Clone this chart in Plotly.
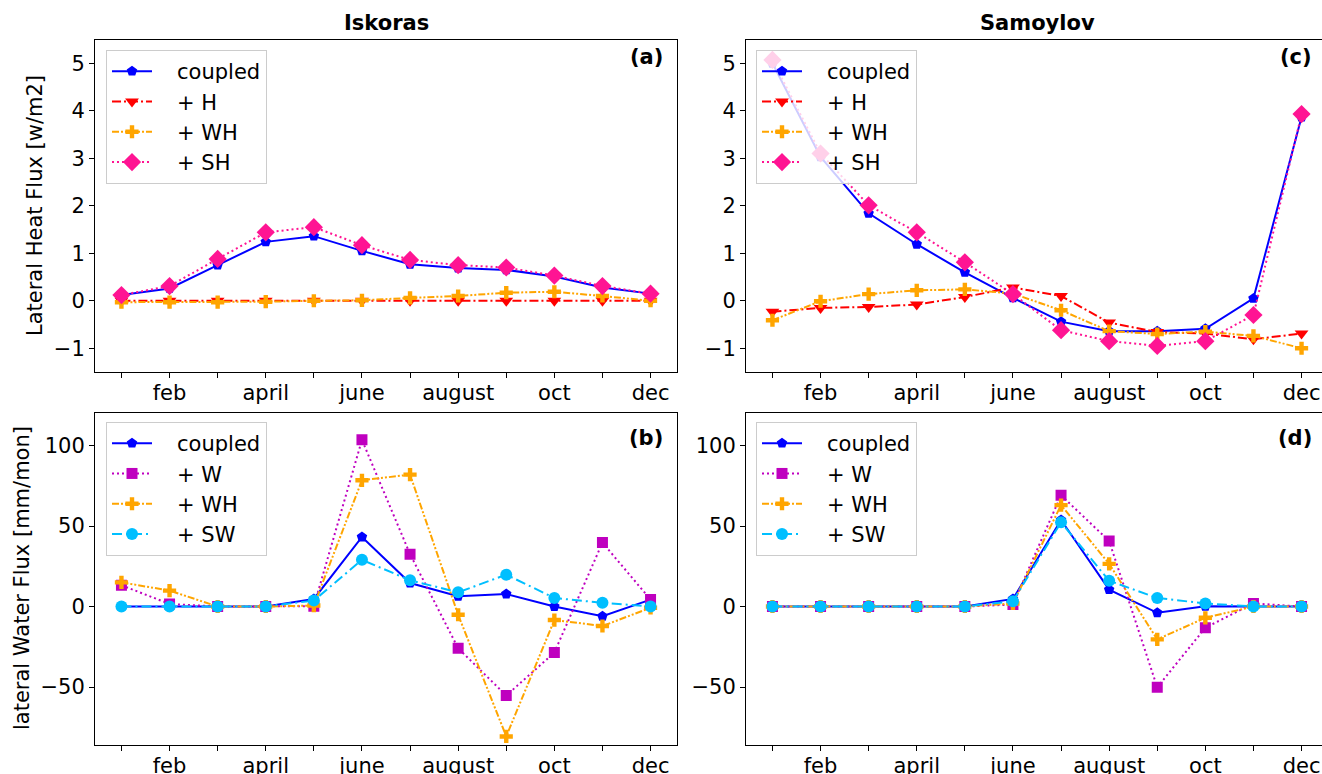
import plotly.graph_objects as go

W, H = 1322, 774

# ---------------- data ----------------
months = [1, 2, 3, 4, 5, 6, 7, 8, 9, 10, 11, 12]
month_labels = ["", "feb", "", "april", "", "june", "", "august", "", "oct", "", "dec"]

# (a) Iskoras lateral heat flux [w/m2]
isk_heat_coupled = [0.12, 0.26, 0.75, 1.24, 1.36, 1.05, 0.77, 0.69, 0.65, 0.51, 0.28, 0.15]
isk_heat_H = [0.0, 0.0, 0.0, 0.0, 0.0, 0.0, 0.0, 0.0, 0.0, 0.0, 0.0, 0.0]
isk_heat_WH = [-0.03, -0.03, -0.03, -0.02, 0.0, 0.01, 0.06, 0.10, 0.17, 0.19, 0.10, 0.0]
isk_heat_SH = [0.12, 0.31, 0.88, 1.44, 1.55, 1.17, 0.86, 0.75, 0.70, 0.53, 0.31, 0.15]

# (c) Samoylov lateral heat flux [w/m2]
sam_heat_coupled = [5.0, 3.03, 1.84, 1.19, 0.60, 0.06, -0.44, -0.64, -0.64, -0.59, 0.05, 3.87]
sam_heat_H = [-0.23, -0.15, -0.13, -0.08, 0.08, 0.28, 0.10, -0.46, -0.66, -0.69, -0.81, -0.69]
sam_heat_WH = [-0.41, -0.01, 0.14, 0.22, 0.24, 0.15, -0.20, -0.64, -0.70, -0.65, -0.74, -1.0]
sam_heat_SH = [5.07, 3.10, 2.01, 1.44, 0.81, 0.14, -0.62, -0.85, -0.95, -0.85, -0.30, 3.93]

# (b) Iskoras lateral water flux [mm/mon]
isk_water_coupled = [0.0, 0.0, 0.0, 0.0, 4.7, 43.2, 14.6, 6.4, 7.8, 0.0, -6.0, 4.3]
isk_water_W = [13.2, 1.6, 0.0, 0.0, 0.2, 103.5, 32.5, -25.9, -55.3, -28.6, 39.7, 4.3]
isk_water_WH = [15.0, 9.9, 0.0, 0.0, 0.6, 78.4, 81.9, -5.1, -80.7, -8.4, -12.1, -0.8]
isk_water_SW = [0.0, 0.0, 0.0, 0.0, 3.7, 29.0, 16.3, 8.8, 19.8, 5.3, 2.3, 0.0]

# (d) Samoylov lateral water flux [mm/mon]
sam_water_coupled = [0.0, 0.0, 0.0, 0.0, 0.0, 4.7, 53.7, 10.5, -3.9, 0.2, 0.0, 0.0]
sam_water_W = [0.0, 0.0, 0.0, 0.0, 0.0, 1.2, 69.1, 40.7, -50.2, -13.2, 1.9, 0.0]
sam_water_WH = [0.0, 0.0, 0.0, 0.0, 0.0, 1.9, 63.0, 26.5, -20.4, -7.0, 0.0, 0.0]
sam_water_SW = [0.0, 0.0, 0.0, 0.0, 0.0, 3.3, 52.3, 16.0, 5.3, 1.9, 0.0, 0.0]

heat_ticks = [-1, 0, 1, 2, 3, 4, 5]
water_ticks = [-50, 0, 50, 100]

# ---------------- styles ----------------
FONT = "DejaVu Sans"
FS = 21
PAD = "\u00a0\u00a0\u00a0"  # gap between legend symbol and label
STY = {
    "coupled": dict(color="#0000FF", dash="solid", symbol="pentagon", size=11),
    "+ H": dict(color="#FF0000", dash="9px,3px,2px,3px", symbol="triangle-down", size=12),
    "+ WH": dict(color="#FFA500", dash="7px,2px,2px,2px,2px,2px", symbol="cross", size=11),
    "+ SH": dict(color="#FF1493", dash="2px,3px", symbol="diamond", size=14),
    "+ W": dict(color="#BF00BF", dash="2px,3px", symbol="square", size=11),
    "+ SW": dict(color="#00BFFF", dash="10px,4px,2px,4px", symbol="circle", size=12),
}


def px(x):
    return x / W


def py(y):
    return 1 - y / H


fig = go.Figure()

panels = [
    ("x", "y", "legend", [("coupled", isk_heat_coupled), ("+ H", isk_heat_H),
                          ("+ WH", isk_heat_WH), ("+ SH", isk_heat_SH)]),
    ("x2", "y2", "legend2", [("coupled", sam_heat_coupled), ("+ H", sam_heat_H),
                             ("+ WH", sam_heat_WH), ("+ SH", sam_heat_SH)]),
    ("x3", "y3", "legend3", [("coupled", isk_water_coupled), ("+ W", isk_water_W),
                             ("+ WH", isk_water_WH), ("+ SW", isk_water_SW)]),
    ("x4", "y4", "legend4", [("coupled", sam_water_coupled), ("+ W", sam_water_W),
                             ("+ WH", sam_water_WH), ("+ SW", sam_water_SW)]),
]

for xa, ya, lg, series in panels:
    for name, vals in series:
        s = STY[name]
        fig.add_trace(go.Scatter(
            x=months, y=vals, name=PAD + name, mode="lines+markers",
            xaxis=xa, yaxis=ya, legend=lg,
            line=dict(color=s["color"], dash=s["dash"], width=2),
            marker=dict(symbol=s["symbol"], size=s["size"], color=s["color"],
                        line=dict(width=0)),
        ))

# geometry (pixels)
left_dom = [px(95), px(677)]
right_dom = [px(746), 1.0]
top_dom = [py(372), py(40)]
bot_dom = [py(744.5), py(412.5)]
xr_left = [0.45, 12.55]
xr_right = [0.45, 0.45 + (W - 746) / (582 / 12.1)]
heat_range = [-1.5, 5.49]
water_range = [-85.7, 120.5]

axis_common = dict(showgrid=False, zeroline=False, showline=True, linecolor="black",
                   linewidth=1, ticks="outside", ticklen=5, tickwidth=1, tickcolor="black",
                   automargin=False,
                   tickfont=dict(family=FONT, size=FS, color="black"))

xcommon = dict(axis_common, tickmode="array", tickvals=months, ticktext=month_labels,
               mirror=True, ticklabelstandoff=-3)

fig.update_layout(
    width=W, height=H, margin=dict(l=0, r=0, t=0, b=0, autoexpand=False),
    plot_bgcolor="white", paper_bgcolor="white",
    font=dict(family=FONT, color="black"),
    xaxis=dict(xcommon, domain=left_dom, range=xr_left, anchor="y"),
    xaxis2=dict(xcommon, domain=right_dom, range=xr_right, anchor="y2"),
    xaxis3=dict(xcommon, domain=left_dom, range=xr_left, anchor="y3"),
    xaxis4=dict(xcommon, domain=right_dom, range=xr_right, anchor="y4"),
    yaxis=dict(axis_common, domain=top_dom, range=heat_range, tickvals=heat_ticks,
               mirror=True, anchor="x"),
    yaxis2=dict(axis_common, domain=top_dom, range=heat_range, tickvals=heat_ticks,
                mirror=False, anchor="x2"),
    yaxis3=dict(axis_common, domain=bot_dom, range=water_range, tickvals=water_ticks,
                mirror=True, anchor="x3"),
    yaxis4=dict(axis_common, domain=bot_dom, range=water_range, tickvals=water_ticks,
                mirror=False, anchor="x4"),
)

leg_common = dict(bgcolor="rgba(255,255,255,0.8)", bordercolor="#cccccc", borderwidth=1,
                  font=dict(family=FONT, size=FS, color="black"),
                  xanchor="left", yanchor="top", itemwidth=40, tracegroupgap=0)
fig.update_layout(
    legend=dict(leg_common, x=px(106), y=py(50)),
    legend2=dict(leg_common, x=px(756), y=py(50)),
    legend3=dict(leg_common, x=px(106), y=py(422)),
    legend4=dict(leg_common, x=px(756), y=py(422)),
)

ann = []
for txt, xc in [("<b>Iskoras</b>", 386), ("<b>Samoylov</b>", 1037)]:
    ann.append(dict(text=txt, x=px(xc), y=py(23), xref="paper", yref="paper",
                    xanchor="center", yanchor="middle", showarrow=False,
                    font=dict(family=FONT, size=FS)))
for lab, xr, yc in [("(a)", 665, 57), ("(c)", 1314, 57), ("(b)", 665, 438), ("(d)", 1314, 438)]:
    ann.append(dict(text="<b>" + lab + "</b>", x=px(xr), y=py(yc), xref="paper", yref="paper",
                    xanchor="right", yanchor="middle", showarrow=False,
                    font=dict(family=FONT, size=FS)))
ann.append(dict(text="Lateral Heat Flux [w/m2]", x=px(35), y=py(206), xref="paper",
                yref="paper", textangle=-90, xanchor="center", yanchor="middle",
                showarrow=False, font=dict(family=FONT, size=FS)))
ann.append(dict(text="lateral Water Flux [mm/mon]", x=px(22), y=py(578), xref="paper",
                yref="paper", textangle=-90, xanchor="center", yanchor="middle",
                showarrow=False, font=dict(family=FONT, size=FS)))
fig.update_layout(annotations=ann)

fig.write_html("out.html")
